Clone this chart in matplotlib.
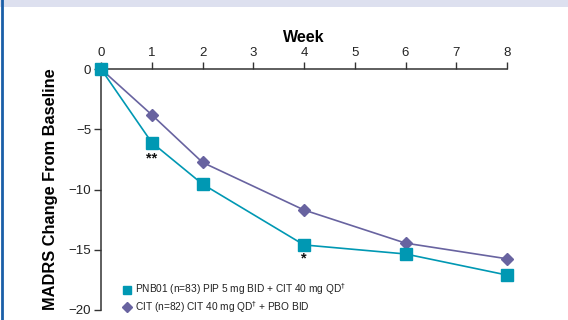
import matplotlib
matplotlib.use("Agg")
import matplotlib.pyplot as plt
from matplotlib.patches import Rectangle
from matplotlib.lines import Line2D

plt.rcParams['font.family'] = ['Liberation Sans', 'DejaVu Sans']

weeks = [0, 1, 2, 4, 6, 8]
pnb01 = [0, -6.1, -9.55, -14.6, -15.35, -17.1]
cit = [0, -3.8, -7.75, -11.7, -14.45, -15.75]
xticks = [0, 1, 2, 3, 4, 5, 6, 7, 8]
yticks = [0, -5, -10, -15, -20]
label_pnb = "PNB01 (n=83) PIP 5 mg BID + CIT 40 mg QD$^{\\dagger}$"
label_cit = "CIT (n=82) CIT 40 mg QD$^{\\dagger}$ + PBO BID"
sig_marks = [(1, -7.4, "**"), (4, -15.75, "*")]

teal = "#0098b3"
purple = "#6863a0"

fig = plt.figure(figsize=(5.68, 3.2), dpi=100)
# header band and left border
fig.patches.append(Rectangle((0, 1 - 7/320), 1, 7/320, transform=fig.transFigure,
                             facecolor="#dde0ef", edgecolor="none", zorder=0))
fig.add_artist(Line2D([1.5/568, 1.5/568], [0, 1], transform=fig.transFigure,
                      color="#1a5fa8", lw=2))

ax = fig.add_axes([101/568, 10/320, 406/568, 241/320])
ax.plot(weeks, cit, color=purple, lw=1.2, marker="D", ms=6.5, clip_on=False, zorder=3)
ax.plot(weeks, pnb01, color=teal, lw=1.2, marker="s", ms=8, clip_on=False, zorder=4)

ax.set_xlim(0, 8)
ax.set_ylim(-20, 0)
ax.xaxis.tick_top()
ax.xaxis.set_label_position("top")
ax.set_xticks(xticks)
ax.set_yticks(yticks)
ax.set_yticklabels(["0", "\u22125", "\u221210", "\u221215", "\u221220"])
ax.tick_params(axis="both", direction="out", length=5, width=1, color="#333333",
               labelsize=9.5, labelcolor="#222222", pad=2)
ax.spines["right"].set_visible(False)
ax.spines["bottom"].set_visible(False)
for s in ("top", "left"):
    ax.spines[s].set_color("#333333")
    ax.spines[s].set_linewidth(1.1)

ax.set_xlabel("Week", fontsize=11.5, fontweight="bold", labelpad=4)
ax.set_ylabel("MADRS Change From Baseline", fontsize=11.8, fontweight="bold", labelpad=8)

for x, y, t in sig_marks:
    ax.text(x, y, t, ha="center", va="center", fontsize=10.5, fontweight="bold", color="#111111")

handles = [Line2D([], [], color=teal, marker="s", ls="none", ms=6),
           Line2D([], [], color=purple, marker="D", ls="none", ms=5)]
ax.legend(handles, [label_pnb, label_cit], loc="lower left", bbox_to_anchor=(0.03, -0.045),
          frameon=False, fontsize=7.3, handletextpad=0.1, labelspacing=0.15,
          handlelength=1.5, borderaxespad=0.2, labelcolor="#222222")

fig.savefig("out.png", dpi=100)
